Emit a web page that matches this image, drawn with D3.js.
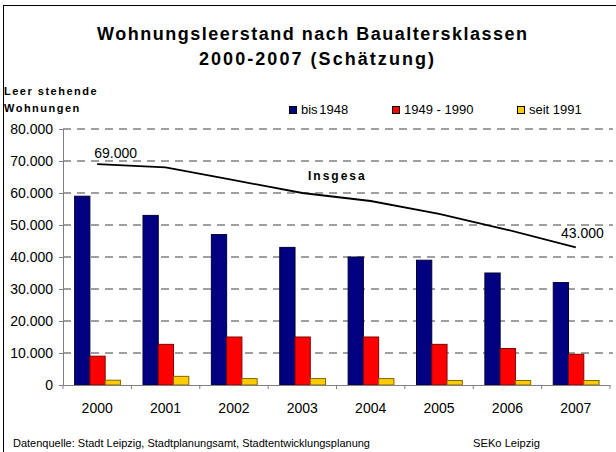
<!DOCTYPE html>
<html>
<head>
<meta charset="utf-8">
<script src="https://cdn.jsdelivr.net/npm/d3@7"></script>
<style>
  body { margin: 0; background: #fff; }
  svg text { font-family: Arial, "Liberation Sans", sans-serif; fill: #000; }
</style>
</head>
<body>
<svg id="chart" width="616" height="452"></svg>
<script>
// Data
const years = ["2000", "2001", "2002", "2003", "2004", "2005", "2006", "2007"];
const seriesNames = ["bis 1948", "1949 - 1990", "seit 1991"];
const bis1948 = [59000, 53000, 47000, 43000, 40000, 39000, 35000, 32000];
const von1949 = [9000, 12700, 15000, 15000, 15000, 12700, 11400, 9600];
const seit1991 = [1500, 2700, 2000, 2000, 2000, 1400, 1400, 1400];
const insgesamt = [69000, 68000, 64000, 60000, 57500, 53500, 48500, 43000];
const yTicks = [0, 10000, 20000, 30000, 40000, 50000, 60000, 70000, 80000];

const fills = ["#000080", "#ff0000", "#ffcc00"];
const strokes = ["#000033", "#800000", "#806600"];

const svg = d3.select("#chart");

// outer frame (right and bottom edges fall outside the picture)
svg.append("rect")
    .attr("x", 3.5).attr("y", 5.5)
    .attr("width", 700).attr("height", 600)
    .attr("fill", "none").attr("stroke", "#000").attr("stroke-width", 1);

const plot = { left: 63, right: 610, top: 129, bottom: 385 };

const x = d3.scaleBand().domain(years).range([plot.left, plot.right]).padding(0);
const xSub = d3.scaleBand().domain(seriesNames)
    .range([x.bandwidth() * 0.17, x.bandwidth() * 0.84]).padding(0);
const y = d3.scaleLinear().domain([0, 80000]).range([plot.bottom, plot.top]);

const fmt = v => d3.format(",")(v).replace(/,/g, ".");

// gridlines
svg.append("g").selectAll("line")
    .data(yTicks.filter(d => d > 0))
    .enter().append("line")
    .attr("x1", plot.left).attr("x2", 613)
    .attr("y1", d => y(d)).attr("y2", d => y(d))
    .attr("stroke", "#808080")
    .attr("stroke-width", 1.5)
    .attr("stroke-dasharray", "8,6");

// y axis
const yAxis = svg.append("g")
    .attr("transform", `translate(${plot.left},0)`)
    .call(d3.axisLeft(y).tickValues(yTicks).tickSize(4).tickPadding(6).tickFormat(fmt));
yAxis.select(".domain").attr("stroke", "#808080");
yAxis.selectAll(".tick line").attr("stroke", "#808080");
yAxis.selectAll(".tick text")
    .style("font-size", "14px")
    .style("font-family", "Arial, 'Liberation Sans', sans-serif")
    .attr("fill", "#000");

// bars
const seriesData = [bis1948, von1949, seit1991];
seriesData.forEach((vals, si) => {
    svg.append("g").selectAll("rect")
        .data(vals)
        .enter().append("rect")
        .attr("x", (d, i) => x(years[i]) + xSub(seriesNames[si]))
        .attr("y", d => y(d))
        .attr("width", xSub.bandwidth())
        .attr("height", d => y(0) - y(d))
        .attr("fill", fills[si])
        .attr("stroke", strokes[si])
        .attr("stroke-width", 1);
});

// x axis
const xAxis = svg.append("g")
    .attr("transform", `translate(0,${plot.bottom})`)
    .call(d3.axisBottom(x).tickSize(0).tickPadding(18));
xAxis.select(".domain").attr("stroke", "#808080");
xAxis.selectAll(".tick text")
    .style("font-size", "14px")
    .style("font-family", "Arial, 'Liberation Sans', sans-serif")
    .attr("fill", "#000");
// tick marks between categories
svg.append("g").selectAll("line")
    .data(years.concat(["end"]))
    .enter().append("line")
    .attr("x1", (d, i) => i < years.length ? x(d) : plot.right)
    .attr("x2", (d, i) => i < years.length ? x(d) : plot.right)
    .attr("y1", plot.bottom).attr("y2", plot.bottom + 4)
    .attr("stroke", "#808080");

// total line
const cx = d => x(d) + x.bandwidth() / 2;
svg.append("path")
    .datum(insgesamt)
    .attr("fill", "none")
    .attr("stroke", "#000")
    .attr("stroke-width", 1.8)
    .attr("d", d3.line().x((d, i) => cx(years[i])).y(d => y(d)));

// first and last value labels
svg.append("text")
    .attr("x", cx(years[0]) - 3)
    .attr("y", y(insgesamt[0]) - 6)
    .style("font-size", "14px")
    .text(fmt(insgesamt[0]));
svg.append("text")
    .attr("x", cx(years[7]) + 28)
    .attr("y", y(insgesamt[7]) - 9)
    .attr("text-anchor", "end")
    .style("font-size", "14px")
    .text(fmt(insgesamt[7]));

svg.append("text")
    .attr("x", 308).attr("y", 180)
    .style("font-size", "12px")
    .style("font-weight", "bold")
    .style("letter-spacing", "2px")
    .text("Insgesa");

// titles
svg.append("text")
    .attr("x", 97).attr("y", 40)
    .attr("textLength", 430).attr("lengthAdjust", "spacing")
    .style("font-size", "18px").style("font-weight", "bold")
    .text("Wohnungsleerstand nach Baualtersklassen");
svg.append("text")
    .attr("x", 199).attr("y", 65)
    .attr("textLength", 235).attr("lengthAdjust", "spacing")
    .style("font-size", "18px").style("font-weight", "bold")
    .text("2000-2007 (Schätzung)");

// y axis caption
svg.append("text")
    .attr("x", 4).attr("y", 94.5)
    .style("font-size", "11px").style("font-weight", "bold")
    .style("letter-spacing", "1.5px")
    .text("Leer stehende");
svg.append("text")
    .attr("x", 4).attr("y", 112)
    .style("font-size", "11px").style("font-weight", "bold")
    .style("letter-spacing", "1.5px")
    .text("Wohnungen");

// legend
const legendX = [289, 392, 517];
const legend = svg.append("g").selectAll("g")
    .data(seriesNames)
    .enter().append("g")
    .attr("transform", (d, i) => `translate(${legendX[i]},106)`);
legend.append("rect")
    .attr("x", 0.5).attr("y", 0.5)
    .attr("width", 7).attr("height", 7)
    .attr("fill", (d, i) => fills[i])
    .attr("stroke", "#000");
legend.append("text")
    .attr("x", 12).attr("y", 8)
    .style("font-size", "13px")
    .style("word-spacing", (d, i) => i === 0 ? "-2px" : "0px")
    .text(d => d);

// source notes
svg.append("text")
    .attr("x", 13).attr("y", 446.5)
    .attr("textLength", 357).attr("lengthAdjust", "spacingAndGlyphs")
    .style("font-size", "11px")
    .text("Datenquelle: Stadt Leipzig, Stadtplanungsamt, Stadtentwicklungsplanung");
svg.append("text")
    .attr("x", 473).attr("y", 446.5)
    .attr("textLength", 67).attr("lengthAdjust", "spacingAndGlyphs")
    .style("font-size", "11px")
    .text("SEKo Leipzig");
</script>
</body>
</html>
